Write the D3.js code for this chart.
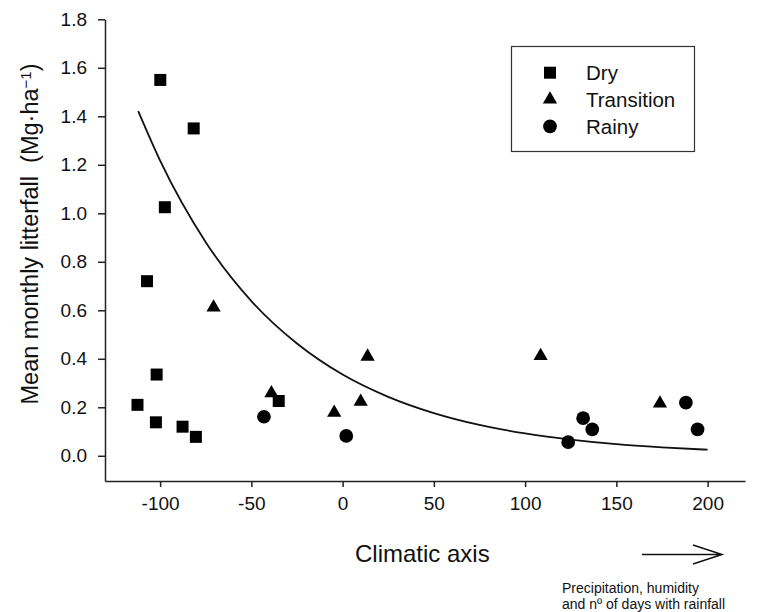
<!DOCTYPE html>
<html>
<head>
<meta charset="utf-8">
<script src="https://cdn.jsdelivr.net/npm/d3@7"></script>
<style>
    body { margin: 0; background: #fff; }
    text { font-family: Arial, "Liberation Sans", sans-serif; fill: #111; }
    .axis path, .axis line { stroke: #222; stroke-width: 1.5; }
    .axis text { font-size: 19px; font-family: Arial, "Liberation Sans", sans-serif; fill: #111; }
</style>
</head>
<body>
<div id="chart"></div>
<script>

// climatic axis score (x) and mean monthly litterfall (y)
const dryClimate   = [-99.9, -81.6, -97.4, -107.2, -101.9, -112.4, -102.3, -87.7, -80.4, -35.0];
const dryLitter    = [1.55, 1.35, 1.025, 0.72, 0.335, 0.21, 0.138, 0.12, 0.078, 0.226];

const transClimate = [-70.7, -39.0, 13.7, 9.9, -4.6, 108.5, 173.9];
const transLitter  = [0.612, 0.258, 0.409, 0.223, 0.178, 0.412, 0.216];

const rainyClimate = [-43.1, 2.0, 131.8, 136.8, 194.5, 123.6, 188.1];
const rainyLitter  = [0.161, 0.082, 0.155, 0.109, 0.109, 0.056, 0.219];

// fitted decay curve
const curveClimate = [-112, -100, -75, -50, -25, 0, 25, 50, 75, 100, 125, 150, 175, 200];
const curveLitter  = [1.421, 1.217, 0.881, 0.638, 0.463, 0.335, 0.243, 0.176, 0.127, 0.092, 0.067, 0.048, 0.035, 0.025];

const xTicks = [-100, -50, 0, 50, 100, 150, 200];
const yTicks = [0, 0.2, 0.4, 0.6, 0.8, 1.0, 1.2, 1.4, 1.6, 1.8];

const seasons = ["Dry", "Transition", "Rainy"];


let width = 771, height = 612;

let svg = d3.select("#chart").append("svg")
    .attr("width", width)
    .attr("height", height);

// Scales (axis lines run from x=105 to 745 and y=19 to 481)
let x = d3.scaleLinear()
    .domain([-130.2, 220.5])
    .range([105, 745]);

let y = d3.scaleLinear()
    .domain([-0.104, 1.8])
    .range([481, 19.3]);

let xAxis = d3.axisBottom(x)
    .tickValues(xTicks)
    .tickSize(6)
    .tickSizeOuter(0)
    .tickPadding(10)
    .tickFormat(d3.format("d"));

let yAxis = d3.axisLeft(y)
    .tickValues(yTicks)
    .tickSize(7)
    .tickSizeOuter(0)
    .tickPadding(11)
    .tickFormat(d3.format(".1f"));

svg.append("g")
    .attr("class", "x-axis axis")
    .attr("transform", "translate(0," + y.range()[0] + ")")
    .call(xAxis);

svg.append("g")
    .attr("class", "y-axis axis")
    .attr("transform", "translate(" + x.range()[0] + ",0)")
    .call(yAxis);

// keep "-" as a hyphen like the original
svg.select(".x-axis").selectAll(".tick text").text(d => d3.format("d")(d).replace("−", "-"));

// fitted curve
let curvePts = curveClimate.map((c, i) => [c, curveLitter[i]]);
svg.append("path")
    .datum(curvePts)
    .attr("fill", "none")
    .attr("stroke", "#111")
    .attr("stroke-width", 1.8)
    .attr("d", d3.line().x(d => x(d[0])).y(d => y(d[1])).curve(d3.curveMonotoneX));

// markers
let symbols = {
    Dry: d3.symbol().type(d3.symbolSquare).size(144),
    Transition: d3.symbol().type(d3.symbolTriangle).size(88),
    Rainy: d3.symbol().type(d3.symbolCircle).size(148)
};

let allPoints = []
    .concat(dryClimate.map((c, i) => ({season: "Dry", c: c, v: dryLitter[i]})))
    .concat(transClimate.map((c, i) => ({season: "Transition", c: c, v: transLitter[i]})))
    .concat(rainyClimate.map((c, i) => ({season: "Rainy", c: c, v: rainyLitter[i]})));

svg.selectAll(".pt")
    .data(allPoints)
    .enter()
    .append("path")
    .attr("class", "pt")
    .attr("d", d => symbols[d.season]())
    .attr("transform", d => "translate(" + x(d.c) + "," + y(d.v) + ")")
    .attr("fill", "#000");

// legend
let legend = svg.append("g").attr("class", "legend");
legend.append("rect")
    .attr("x", 511.5)
    .attr("y", 46.5)
    .attr("width", 183)
    .attr("height", 105)
    .attr("fill", "#fff")
    .attr("stroke", "#333")
    .attr("stroke-width", 1.2);

seasons.forEach((s, i) => {
    let cy = 72.7 + i * 26.8;
    legend.append("path")
        .attr("d", symbols[s]())
        .attr("transform", "translate(550," + cy + ")")
        .attr("fill", "#000");
    legend.append("text")
        .attr("x", 586)
        .attr("y", cy)
        .attr("dy", "0.36em")
        .style("font-size", "20.5px")
        .text(s);
});

// axis titles
svg.append("text")
    .attr("x", 355)
    .attr("y", 562)
    .style("font-size", "24px")
    .text("Climatic axis");

let yl = svg.append("text")
    .attr("transform", "translate(38," + 234 + ") rotate(-90)")
    .attr("text-anchor", "middle")
    .style("font-size", "23.5px");
yl.append("tspan").text("Mean monthly litterfall\u00a0 (Mg\u00b7ha");
yl.append("tspan").attr("dy", "-0.45em").style("font-size", "15px").text("\u22121");
yl.append("tspan").attr("dy", "0.3em").text(")");

// arrow annotation
svg.append("path")
    .attr("d", "M642,554.5 L722,554.5 M693,545 L722,554.5 L693,564")
    .attr("fill", "none")
    .attr("stroke", "#111")
    .attr("stroke-width", 1.5);

svg.append("text")
    .attr("x", 562)
    .attr("y", 593)
    .style("font-size", "14px")
    .text("Precipitation, humidity");
svg.append("text")
    .attr("x", 562)
    .attr("y", 609)
    .style("font-size", "14px")
    .text("and n\u00ba of days with rainfall");

</script>
</body>
</html>
